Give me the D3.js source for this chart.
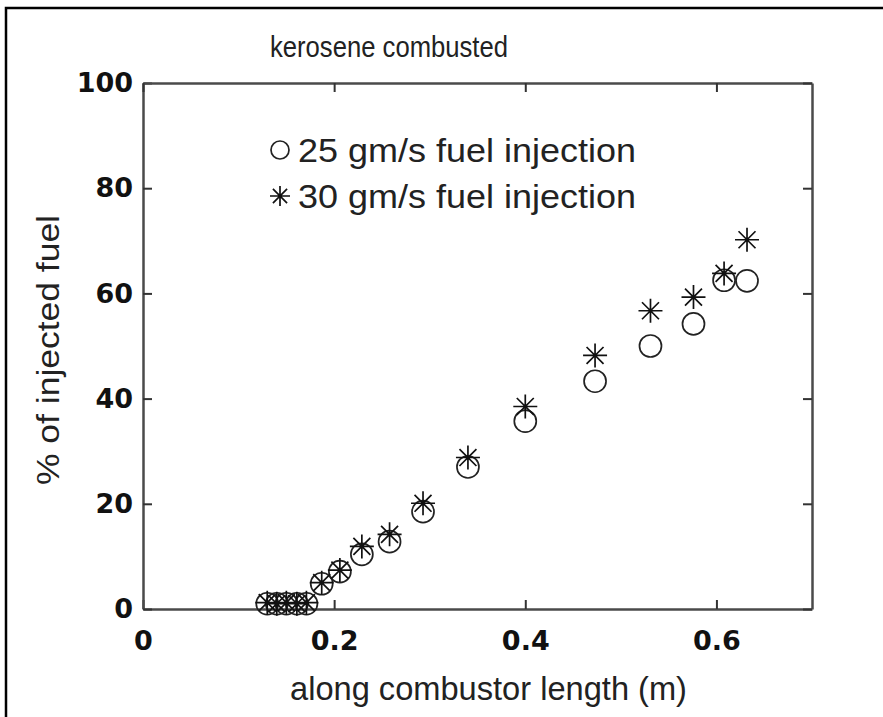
<!DOCTYPE html>
<html>
<head>
<meta charset="utf-8">
<script src="https://cdn.jsdelivr.net/npm/d3@7"></script>
<style>
  body { margin: 0; background: #fff; }
  .axis .domain { stroke: #4a4a4a; stroke-width: 2.5; }
  .axis .tick line { stroke: #333; stroke-width: 2; }
  .axis text { font-family: "DejaVu Sans", sans-serif; font-weight: bold; font-size: 27px; fill: #111; }
</style>
</head>
<body>
<svg id="chart" width="883" height="717"></svg>
<script>
// tick values
var xTicks = [0, 0.2, 0.4, 0.6];
var yTicks = [0, 20, 40, 60, 80, 100];

// combustor position (m), same stations for both runs
var position = [0.130, 0.140, 0.150, 0.161, 0.171, 0.187, 0.206, 0.229, 0.258, 0.293, 0.340, 0.400, 0.473, 0.531, 0.576, 0.608, 0.632];
// % of injected fuel combusted
var pct25 = [1.0, 1.0, 1.0, 1.0, 1.0, 4.8, 7.1, 10.4, 12.8, 18.5, 27.0, 35.7, 43.3, 50.0, 54.2, 62.5, 62.4];
var pct30 = [1.2, 1.0, 1.2, 1.0, 1.2, 5.0, 7.4, 11.9, 14.2, 20.1, 28.8, 38.5, 48.2, 56.7, 59.3, 63.8, 70.2];

var seriesNames = ["25 gm/s fuel injection", "30 gm/s fuel injection"];

var svg = d3.select("#chart");
var margin = { left: 143, right: 71, top: 83, bottom: 108 };
var width = 883 - margin.left - margin.right;   // 669
var height = 717 - margin.top - margin.bottom;  // 526

// outer frame of the figure (only top + left edge visible)
svg.append("path")
    .attr("d", "M6,717 L6,8 L883,8")
    .attr("fill", "none")
    .attr("stroke", "#000")
    .attr("stroke-width", 2.5);

var g = svg.append("g").attr("transform", `translate(${margin.left},${margin.top})`);

var x = d3.scaleLinear().domain([0, 0.7]).range([0, width]);
var y = d3.scaleLinear().domain([0, 100]).range([height, 0]);

// matlab style box: inward ticks on all four sides
g.append("g").attr("class", "axis")
    .attr("transform", `translate(0,${height})`)
    .call(d3.axisBottom(x).tickValues(xTicks).tickFormat(d => d === 0 ? "0" : d3.format(".1f")(d)).tickSizeInner(-9).tickSizeOuter(0).tickPadding(22));

g.append("g").attr("class", "axis")
    .call(d3.axisLeft(y).tickValues(yTicks).tickSizeInner(-9).tickSizeOuter(0).tickPadding(10));

g.append("g").attr("class", "axis")
    .call(d3.axisTop(x).tickValues(xTicks).tickFormat("").tickSizeInner(-9).tickSizeOuter(0));

g.append("g").attr("class", "axis")
    .attr("transform", `translate(${width},0)`)
    .call(d3.axisRight(y).tickValues(yTicks).tickFormat("").tickSizeInner(-9).tickSizeOuter(0));

// marker shapes
var starPath = function (r) {
    var s = "";
    for (var k = 0; k < 4; k++) {
        var a = k * Math.PI / 4;
        var dx = r * Math.cos(a), dy = r * Math.sin(a);
        s += `M${-dx},${-dy}L${dx},${dy}`;
    }
    return s;
};

var pts25 = position.map((p, i) => ({ x: p, y: pct25[i] }));
var pts30 = position.map((p, i) => ({ x: p, y: pct30[i] }));

g.append("g")
    .selectAll("circle")
    .data(pts25)
    .join("circle")
    .attr("cx", d => x(d.x))
    .attr("cy", d => y(d.y))
    .attr("r", 11)
    .attr("fill", "none")
    .attr("stroke", "#222")
    .attr("stroke-width", 1.7);

g.append("g")
    .selectAll("path")
    .data(pts30)
    .join("path")
    .attr("transform", d => `translate(${x(d.x)},${y(d.y)})`)
    .attr("d", starPath(12))
    .attr("stroke", "#111")
    .attr("stroke-width", 1.7);

// legend
var legend = svg.append("g");
legend.append("circle")
    .attr("cx", 280).attr("cy", 150).attr("r", 9)
    .attr("fill", "none").attr("stroke", "#222").attr("stroke-width", 1.7);
legend.append("path")
    .attr("transform", "translate(280,196)")
    .attr("d", starPath(10))
    .attr("stroke", "#111").attr("stroke-width", 1.7);

legend.selectAll("text")
    .data(seriesNames)
    .join("text")
    .attr("x", 298)
    .attr("y", (d, i) => 162 + i * 46)
    .attr("textLength", 338)
    .attr("lengthAdjust", "spacingAndGlyphs")
    .style("font-family", "Liberation Sans, Arial, sans-serif")
    .style("font-size", "33px")
    .style("fill", "#222")
    .text(d => d);

// title and axis labels
svg.append("text")
    .attr("x", 270).attr("y", 57)
    .attr("textLength", 238)
    .attr("lengthAdjust", "spacingAndGlyphs")
    .style("font-family", "Liberation Sans, Arial, sans-serif")
    .style("font-size", "30px")
    .style("fill", "#222")
    .text("kerosene combusted");

svg.append("text")
    .attr("x", 290).attr("y", 700)
    .attr("textLength", 397)
    .attr("lengthAdjust", "spacingAndGlyphs")
    .style("font-family", "Liberation Sans, Arial, sans-serif")
    .style("font-size", "33px")
    .style("fill", "#222")
    .text("along combustor length (m)");

svg.append("text")
    .attr("transform", "translate(59,350) rotate(-90)")
    .attr("text-anchor", "middle")
    .attr("textLength", 270)
    .attr("lengthAdjust", "spacingAndGlyphs")
    .style("font-family", "Liberation Sans, Arial, sans-serif")
    .style("font-size", "31px")
    .style("fill", "#222")
    .text("% of injected fuel");
</script>
</body>
</html>
